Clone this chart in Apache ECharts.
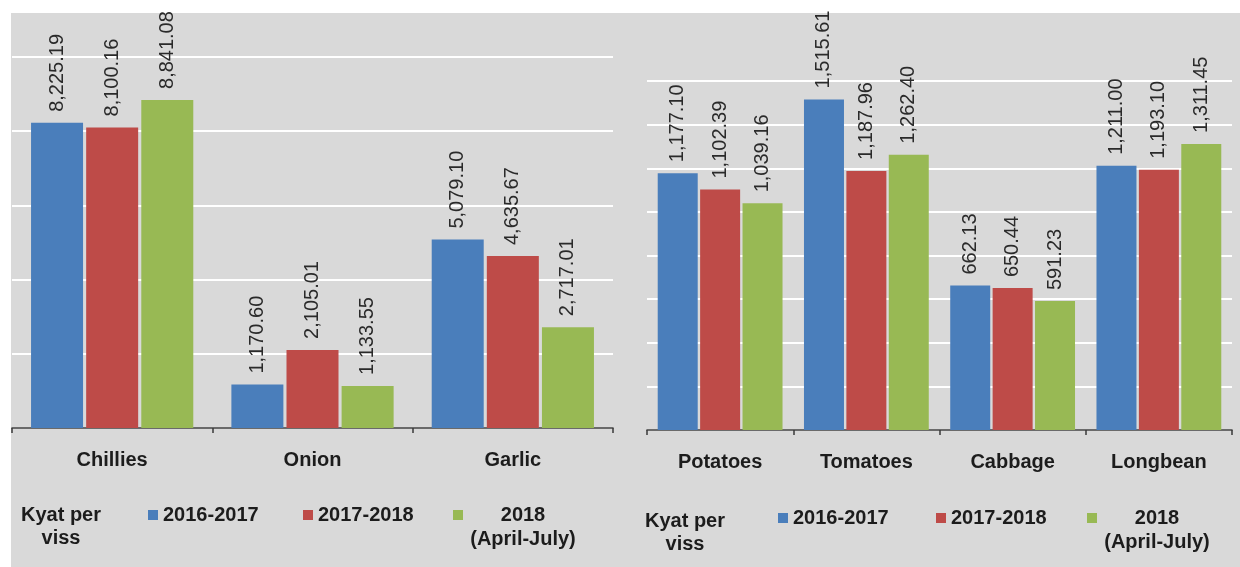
<!DOCTYPE html>
<html>
<head>
<meta charset="utf-8">
<script src="https://cdn.jsdelivr.net/npm/echarts@6/dist/echarts.min.js"></script>
<style>
  html, body { margin: 0; padding: 0; background: #ffffff; }
  #chart { width: 1240px; height: 567px; }
</style>
</head>
<body>
<div id="chart"></div>
<script>
// Retail prices, Kyat per viss
const seriesNames = ['2016-2017', '2017-2018', '2018 (April-July)'];

// Spices panel
const spiceCategories = ['Chillies', 'Onion', 'Garlic'];
const spice2016 = [8225.19, 1170.60, 5079.10];
const spice2017 = [8100.16, 2105.01, 4635.67];
const spice2018 = [8841.08, 1133.55, 2717.01];

// Vegetables panel
const vegCategories = ['Potatoes', 'Tomatoes', 'Cabbage', 'Longbean'];
const veg2016 = [1177.10, 1515.61, 662.13, 1211.00];
const veg2017 = [1102.39, 1187.96, 650.44, 1193.10];
const veg2018 = [1039.16, 1262.40, 591.23, 1311.45];

const unitText = 'Kyat per\nviss';

const colors = ['#4a7ebb', '#be4b48', '#98b954'];
const FONT = '"Liberation Sans", Arial, sans-serif';
const TEXT = '#1c1c1c';

function fmt(v) {
  const fixed = v.toFixed(2);
  const [intPart, dec] = fixed.split('.');
  return intPart.replace(/\B(?=(\d{3})+(?!\d))/g, ',') + '.' + dec;
}

const chart = echarts.init(document.getElementById('chart'), null, { renderer: 'canvas' });

function xAxisCfg(idx, cats) {
  return {
    type: 'category',
    gridIndex: idx,
    data: cats,
    axisLine: { lineStyle: { color: '#3a3a3a', width: 1.5 } },
    axisTick: { show: true, length: 5, lineStyle: { color: '#3a3a3a', width: 1.5 } },
    axisLabel: { color: TEXT, fontSize: 20, fontWeight: 'bold', fontFamily: FONT, margin: 22 }
  };
}

function yAxisCfg(idx, max, interval) {
  return {
    type: 'value',
    gridIndex: idx,
    min: 0,
    max: max,
    interval: interval,
    axisLine: { show: false },
    axisTick: { show: false },
    axisLabel: { show: false },
    splitLine: { show: true, lineStyle: { color: '#ffffff', width: 2 } }
  };
}

function barSeries(name, data, idx, color, width) {
  return {
    name: name,
    type: 'bar',
    xAxisIndex: idx,
    yAxisIndex: idx,
    data: data,
    barWidth: width,
    barGap: '6%',
    itemStyle: { color: color },
    label: {
      show: true,
      position: 'top',
      rotate: 90,
      align: 'left',
      verticalAlign: 'middle',
      distance: 11,
      color: '#2a2a2a',
      fontSize: 20,
      fontFamily: FONT,
      formatter: p => fmt(p.value)
    }
  };
}

function legendItem(name, left, top, multi) {
  const cfg = {
    data: [name],
    left: left,
    top: top,
    padding: 0,
    itemWidth: 10,
    itemHeight: 10,
    itemGap: 0,
    icon: 'rect',
    selectedMode: false,
    textStyle: { color: TEXT, fontSize: 20, fontWeight: 'bold', fontFamily: FONT }
  };
  if (multi) {
    const parts = name.split(' ');
    cfg.formatter = () => '{a|' + parts[0] + '}\n{a|' + parts[1] + '}';
    cfg.textStyle.padding = [24, 0, 0, 0];
    cfg.textStyle.rich = {
      a: { width: 110, align: 'center', lineHeight: 24, color: TEXT, fontSize: 20, fontWeight: 'bold', fontFamily: FONT }
    };
  }
  return cfg;
}

const option = {
  backgroundColor: '#ffffff',
  animation: false,
  graphic: [
    {
      type: 'rect',
      z: -10,
      silent: true,
      shape: { x: 11, y: 13, width: 1229, height: 554 },
      style: { fill: '#d9d9d9' }
    },
    {
      type: 'text',
      z: 10,
      style: {
        text: unitText, x: 61, y: 504, align: 'center', verticalAlign: 'top',
        font: 'bold 20px ' + FONT, lineHeight: 23, fill: TEXT
      }
    },
    {
      type: 'text',
      z: 10,
      style: {
        text: unitText, x: 685, y: 510, align: 'center', verticalAlign: 'top',
        font: 'bold 20px ' + FONT, lineHeight: 23, fill: TEXT
      }
    }
  ],
  grid: [
    { left: 12, right: 627, top: 57, bottom: 139 },
    { left: 647, right: 8, top: 81, bottom: 137 }
  ],
  xAxis: [xAxisCfg(0, spiceCategories), xAxisCfg(1, vegCategories)],
  yAxis: [yAxisCfg(0, 10000, 2000), yAxisCfg(1, 1600, 200)],
  legend: [
    legendItem(seriesNames[0], 148, 505, false),
    legendItem(seriesNames[1], 303, 505, false),
    legendItem(seriesNames[2], 453, 505, true),
    legendItem(seriesNames[0], 778, 508, false),
    legendItem(seriesNames[1], 936, 508, false),
    legendItem(seriesNames[2], 1087, 508, true)
  ],
  series: [
    barSeries(seriesNames[0], spice2016, 0, colors[0], 52),
    barSeries(seriesNames[1], spice2017, 0, colors[1], 52),
    barSeries(seriesNames[2], spice2018, 0, colors[2], 52),
    barSeries(seriesNames[0], veg2016, 1, colors[0], 40),
    barSeries(seriesNames[1], veg2017, 1, colors[1], 40),
    barSeries(seriesNames[2], veg2018, 1, colors[2], 40)
  ]
};

chart.setOption(option);
</script>
</body>
</html>
